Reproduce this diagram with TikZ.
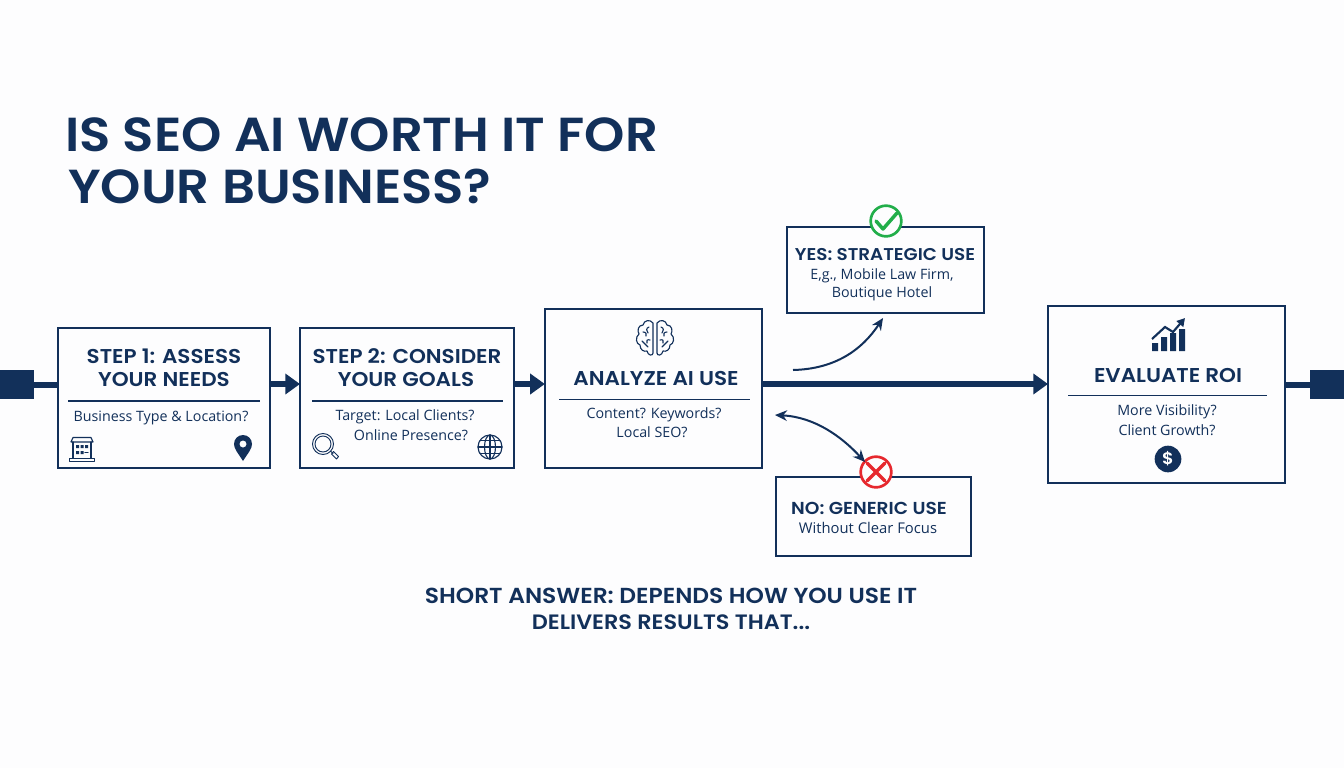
\documentclass[tikz,border=0pt]{standalone}
\usepackage{fontspec}
\setmainfont{Open Sans}
\newfontfamily\hd{Poppins}[BoldFont={Poppins SemiBold},BoldFeatures={FakeStretch=1.075}]
\usetikzlibrary{arrows.meta}
\definecolor{navy}{HTML}{12305A}
\definecolor{okgreen}{HTML}{22AE4A}
\definecolor{nored}{HTML}{E6282E}
\definecolor{paper}{HTML}{FDFDFE}
\tikzset{
  card/.style={draw=navy,line width=1.9pt,fill=paper,inner sep=0,outer sep=0},
  bigt/.style={text=navy,inner sep=0,font=\hd\bfseries\fontsize{35.8}{40}\selectfont,anchor=base west},
  head/.style={text=navy,inner sep=0,font=\hd\bfseries\fontsize{#1}{#1}\selectfont},
  body/.style={text=navy,inner sep=0,font=\fontsize{10.7}{12}\selectfont},
  flow/.style={draw=navy,line width=4.5pt,-{Triangle[length=11pt,width=15pt]}},
  stub/.style={draw=navy,line width=4.5pt},
  curve/.style={draw=navy,line width=1.5pt},
  term/.style={fill=navy,inner sep=0,outer sep=0,minimum width=25.5pt,minimum height=22pt},
  rule/.style={draw=navy,line width=.9pt},
  ico/.style={draw=navy,line width=.85pt,line join=round,line cap=round},
  badge/.style={circle,draw=#1,line width=2pt,fill=paper,minimum size=23pt,inner sep=0,outer sep=0},
}
\begin{document}
\begin{tikzpicture}[x=.75pt,y=-.75pt]
\useasboundingbox[fill=paper] (0,0) rectangle (1344,768);
\coordinate (axis) at (0,384);
% title
\node[bigt] (t1) at (65,151) {IS SEO AI WORTH IT FOR};
\node[bigt] (t2) at (68,203) {YOUR BUSINESS?};
% cards
\node[card,minimum width=159pt,minimum height=105pt] (s1) at (164,398) {};
\node[card,minimum width=160.5pt,minimum height=105pt] (s2) at (407,398) {};
\node[card,minimum width=163pt,minimum height=119pt] (s3) at (653.5,388.5) {};
\node[card,minimum width=148pt,minimum height=64.5pt] (yes) at (885.5,270) {};
\node[card,minimum width=146pt,minimum height=59pt] (no) at (873.5,516.5) {};
\node[card,minimum width=177.75pt,minimum height=133pt] (roi) at (1166.5,394.5) {};
% terminals
\node[term] (lb) at (16.5,384.5) {};
\node[term] (rb) at (1327,384.5) {};
% connectors
\draw[stub] (lb.east) -- (s1.west |- lb.east);
\draw[flow] (s1.east |- axis) -- (s2.west |- axis);
\draw[flow] (s2.east |- axis) -- (s3.west |- axis);
\draw[flow] (s3.east |- axis) -- (roi.west |- axis);
\draw[stub] (roi.east |- rb.west) -- (rb.west);
% card texts
\node[head=15] (s1a) at (164,356) {STEP 1: ASSESS};
\node[head=15] (s1b) at (164,379) {YOUR NEEDS};
\draw[rule] (68,401) -- (260,401);
\node[body] (s1c) at (161,418) {Business Type \& Location?};
\node[head=15] (s2a) at (407,356) {STEP 2: CONSIDER};
\node[head=15] (s2b) at (406,379) {YOUR GOALS};
\draw[rule] (312,401) -- (503,401);
\node[body] (s2c) at (405,417) {Target: Local Clients?};
\node[body] (s2d) at (411,435) {Online Presence?};
\node[head=15] (s3a) at (656,378) {ANALYZE AI USE};
\draw[rule] (559,399.5) -- (750,399.5);
\node[body] (s3b) at (654,415) {Content? Keywords?};
\node[body] (s3c) at (652,432) {Local SEO?};
\node[head=12.8] (ya) at (885,255) {YES: STRATEGIC USE};
\node[body] (yb) at (882,276) {E,g., Mobile Law Firm,};
\node[body] (yc) at (882,294) {Boutique Hotel};
\node[head=13] (na) at (869,508) {NO: GENERIC USE};
\node[body,font=\fontsize{11.1}{12}\selectfont] (nb) at (868,528) {Without Clear Focus};
\node[head=15] (ra) at (1168,375) {EVALUATE ROI};
\draw[rule] (1068,395.5) -- (1267,395.5);
\node[body] (rb1) at (1167,412) {More Visibility?};
\node[body] (rb2) at (1167,430) {Client Growth?};
% bottom
\node[head=16.3] (b1) at (671,596) {SHORT ANSWER: DEPENDS HOW YOU USE IT};
\node[head=15.6] (b2) at (671,622) {DELIVERS RESULTS THAT...};
% badges
\node[badge=okgreen] (ok) at (886,221) {};
\draw[okgreen,line width=2.6pt,line cap=round,line join=round] (876,221) -- (883,229) -- (897,213);
\node[badge=nored] (bad) at (876,472) {};
\draw[nored,line width=2.6pt,line cap=round] (867,463) -- (885,481) (885,463) -- (867,481);
% branch arrows
\coordinate (ya0) at (793,370);
\coordinate (ya1) at (883,318);
\coordinate (na0) at (775,415);
\coordinate (na1) at (865,462);
\draw[curve,-{Stealth[length=9pt,width=8pt]}] (ya0) .. controls (835,369) and (862,350) .. (ya1);
\draw[curve,{Stealth[length=9pt,width=8pt]}-{Stealth[length=9pt,width=8pt]}] (na0) .. controls (815,417) and (842,437) .. (na1);
% store
\begin{scope}[ico]
\draw (71,442) -- (73,437.5) -- (91,437.5) -- (93,442) -- cycle;
\draw (73,442) -- (73,458) (91,442) -- (91,458);
\draw (69.5,458.5) rectangle (94.5,461.5);
\fill[navy] (76,445) rectangle (79,448) (80.5,445) rectangle (83.5,448) (85,445) rectangle (88,448)
 (76,451) rectangle (79,454) (80.5,451) rectangle (83.5,454);
\draw (85,452.5) -- (88,452.5);
\end{scope}
% pin
\fill[navy,even odd rule] (243,461) .. controls (238,453) and (234,449) .. (234,444) arc[start angle=180,end angle=360,radius=9] .. controls (252,449) and (248,453) .. (243,461) -- cycle
 (243,444) circle[radius=3.6];
% magnifier
\begin{scope}[ico,line width=.7pt]
\draw (323,444) circle[radius=10.5];
\draw (323,444) circle[radius=8];
\draw (331,451.5) -- (333,453.5);
\draw (333.5,451.5) -- (338.5,456.5) -- (336.5,459) -- (331.5,454) -- cycle;
\end{scope}
% globe
\begin{scope}[ico]
\draw (490,447) circle[radius=12];
\draw (490,447) ellipse[x radius=5.5,y radius=12];
\draw (490,435) -- (490,459) (478,447) -- (502,447);
\draw (480,440.5) -- (500,440.5) (480,453.5) -- (500,453.5);
\end{scope}
% brain
\begin{scope}[ico,shift={(655,338)}]
\foreach \s in {1,-1}{
\begin{scope}[xscale=\s]
\draw (2,-15) .. controls (5,-19) and (11,-18) .. (12,-13) .. controls (17,-13) and (18,-7) .. (16,-4)
 .. controls (20,-1) and (19,6) .. (15,7) .. controls (15,12) and (11,14) .. (8,13) .. controls (7,18) and (2,18) .. (2,15) -- cycle;
\draw (6,-11) .. controls (9,-10) and (9,-7) .. (7,-5);
\draw (12,-6) .. controls (9,-6) and (8,-4) .. (9,-2);
\draw (5,2) .. controls (8,1) and (9,3) .. (8,5) ;
\draw (13,3) .. controls (11,6) and (9,6) .. (7,9);
\end{scope}}
\end{scope}
% chart
\fill[navy] (1152,343) rectangle (1158,351) (1161,337) rectangle (1167,351) (1170,333) rectangle (1176,351) (1179,329) rectangle (1185,351);
\draw[navy,line width=1.6pt,-{Triangle[length=6pt,width=6.5pt]}] (1152,339) -- (1165,327) -- (1173,332) -- (1185,318);
% dollar
\node[circle,fill=navy,minimum size=20pt,inner sep=0,text=white,font=\hd\bfseries\fontsize{12.5}{12.5}\selectfont] (dl) at (1168,459) {\$};
\end{tikzpicture}
\end{document}
